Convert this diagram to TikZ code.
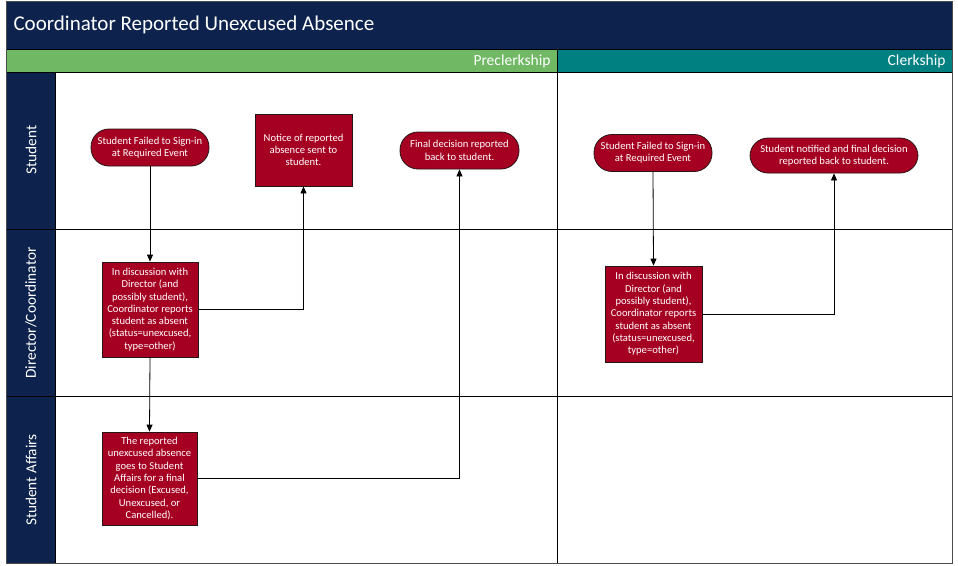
\documentclass[tikz,border=0pt]{standalone}
\usepackage{fontspec}
\setmainfont{Carlito}
\usetikzlibrary{arrows.meta}
\definecolor{navy}{RGB}{13,35,78}
\definecolor{hgreen}{RGB}{112,184,100}
\definecolor{hteal}{RGB}{0,128,128}
\definecolor{nred}{RGB}{165,0,33}
\definecolor{nedge}{RGB}{40,20,20}
\tikzset{
  box/.style={draw=nedge, line width=0.8pt, fill=nred, text=white, align=center, inner sep=0pt,
    font=\fontsize{10.6}{12.3}\selectfont},
  stadium/.style={box, rounded corners=18pt},
  lanelabel/.style={rotate=90, text=white, font=\fontsize{15.3}{17}\selectfont},
  phaselabel/.style={anchor=east, text=white, font=\fontsize{15.5}{17}\selectfont},
  arr/.style={draw=black, line width=0.8pt, -{Triangle[length=7pt,width=6pt]}},
  rule/.style={draw=black, line width=1pt}
}
\begin{document}
\begin{tikzpicture}[x=1pt,y=-1pt]
\useasboundingbox (0,0) rectangle (958,565);
\fill[white] (0,0) rectangle (958,565);
% title and headers
\fill[navy] (6,1) rectangle (952,49);
\fill[hgreen] (6,49) rectangle (557,72);
\fill[hteal] (557,49) rectangle (952,72);
\fill[navy] (6,72) rectangle (55,563);
\node[anchor=west, text=white, font=\fontsize{21}{24}\selectfont] (title) at (10,25) {Coordinator Reported Unexcused Absence};
\node[phaselabel] (pre) at (554,61) {Preclerkship};
\node[phaselabel] (cle) at (949,61) {Clerkship};
% lane labels
\node[lanelabel] (ls) at (31,150) {Student};
\node[lanelabel] (ld) at (31,313) {Director/Coordinator};
\node[lanelabel] (la) at (31,480) {Student Affairs};
% rules
\draw[rule] (6,49) -- (952,49);
\draw[rule] (6,72) -- (952,72);
\draw[rule] (6,229) -- (952,229);
\draw[rule] (6,396) -- (952,396);
\draw[rule] (55,72) -- (55,563);
\draw[rule] (557,49) -- (557,563);
\draw[line width=1pt, draw=black!70] (6,1) rectangle (952,563);
% nodes
\node[stadium, minimum width=118pt, minimum height=37pt] (n1) at (150,147.5) {Student Failed to Sign-in\\at Required Event};
\node[box, minimum width=97pt, minimum height=72pt] (n2) at (303.5,150) {Notice of reported\\absence sent to\\student.};
\node[stadium, minimum width=119pt, minimum height=37pt] (n3) at (459.5,150.5) {Final decision reported\\back to student.};
\node[stadium, minimum width=118pt, minimum height=37pt] (n4) at (653,153) {Student Failed to Sign-in\\at Required Event};
\node[stadium, minimum width=168pt, minimum height=35pt] (n5) at (834,155.5) {Student notified and final decision\\reported back to student.};
\node[box, minimum width=96pt, minimum height=95pt] (n6) at (150,309.5) {In discussion with\\Director (and\\possibly student),\\Coordinator reports\\student as absent\\(status=unexcused,\\type=other)};
\node[box, minimum width=97pt, minimum height=96pt] (n7) at (653.5,314) {In discussion with\\Director (and\\possibly student),\\Coordinator reports\\student as absent\\(status=unexcused,\\type=other)};
\node[box, minimum width=95pt, minimum height=93pt] (n8) at (149.5,478.5) {The reported\\unexcused absence\\goes to Student\\Affairs for a final\\decision (Excused,\\Unexcused, or\\Cancelled).};
% connectors
\draw[arr] (n1.south) -- (n6.north);
\draw[arr] (n6.east) -| (n2.south);
\draw[arr] (n6.south) -- (n8.north);
\draw[arr] (n8.east) -| (n3.south);
\draw[arr] (n4.south) -- (n7.north);
\draw[arr] (n7.east) -| (n5.south);
\end{tikzpicture}
\end{document}
